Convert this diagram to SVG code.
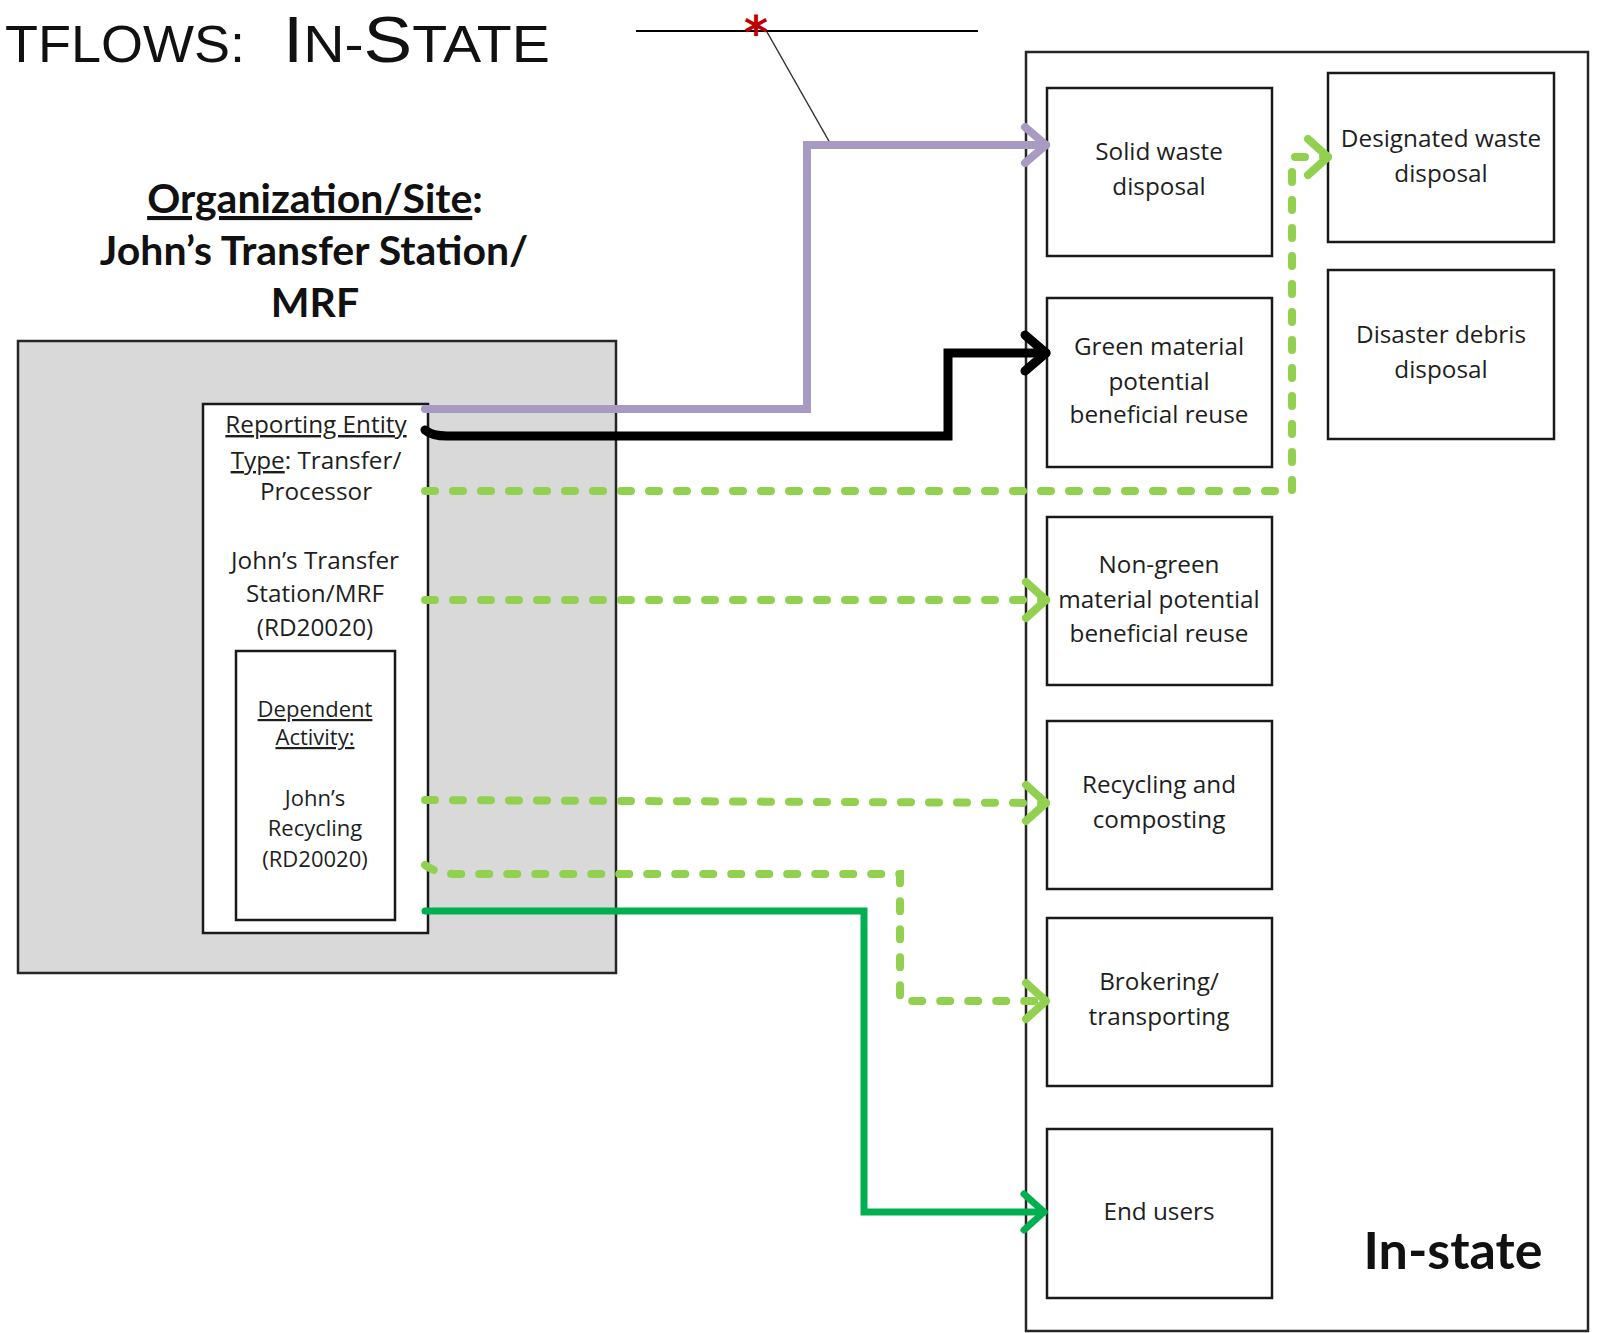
<svg xmlns="http://www.w3.org/2000/svg" width="1601" height="1333" viewBox="0 0 1601 1333">
<style>
.box{fill:#fff;stroke:#1a1a1a;stroke-width:2.5}
.lbl{font-family:"Open Sans","Liberation Sans",sans-serif;font-size:24.3px;fill:#1e1e1e;text-anchor:middle}
.sm{font-family:"Open Sans","Liberation Sans",sans-serif;font-size:24.3px;fill:#1e1e1e;text-anchor:middle}
.xs{font-family:"Open Sans","Liberation Sans",sans-serif;font-size:22px;fill:#1e1e1e;text-anchor:middle}
.hd{font-family:Lato,"Liberation Sans",sans-serif;font-weight:bold;font-size:41px;fill:#111;text-anchor:middle}
.ttl{font-family:"Liberation Sans",Arial,sans-serif;fill:#111}
.ul{text-decoration:underline}
.c{fill:none;stroke-linejoin:miter;stroke-linecap:round}
.purple{stroke:#a99ac4;stroke-width:8}
.black{stroke:#000;stroke-width:9}
.lg{stroke:#92d050;stroke-width:8;stroke-dasharray:10 18}
.dg{stroke:#00b050;stroke-width:7}
</style>
<defs>
<marker id="aP" markerUnits="userSpaceOnUse" viewBox="-30 -25 40 50" markerWidth="40" markerHeight="50" refX="0" refY="0" orient="auto"><path d="M-21,-18 L0,0 L-21,18" fill="none" stroke="#a99ac4" stroke-width="8" stroke-linecap="round" stroke-linejoin="round"/></marker>
<marker id="aB" markerUnits="userSpaceOnUse" viewBox="-30 -25 40 50" markerWidth="40" markerHeight="50" refX="0" refY="0" orient="auto"><path d="M-21,-18 L0,0 L-21,18" fill="none" stroke="#000" stroke-width="9" stroke-linecap="round" stroke-linejoin="round"/></marker>
<marker id="aL" markerUnits="userSpaceOnUse" viewBox="-30 -25 40 50" markerWidth="40" markerHeight="50" refX="0" refY="0" orient="auto"><path d="M-20,-18 L0,0 L-20,18" fill="none" stroke="#92d050" stroke-width="8" stroke-linecap="round" stroke-linejoin="round"/></marker>
<marker id="aG" markerUnits="userSpaceOnUse" viewBox="-30 -25 40 50" markerWidth="40" markerHeight="50" refX="0" refY="0" orient="auto"><path d="M-20,-18 L0,0 L-20,18" fill="none" stroke="#00b050" stroke-width="7" stroke-linecap="round" stroke-linejoin="round"/></marker>
</defs>
<rect width="1601" height="1333" fill="#fff"/>

<g id="title">
<text class="ttl" x="5" y="62" font-size="51" textLength="240" lengthAdjust="spacingAndGlyphs">TFLOWS:</text>
<text class="ttl" x="283" y="62" textLength="267" lengthAdjust="spacingAndGlyphs"><tspan font-size="65">I</tspan><tspan font-size="51">N-</tspan><tspan font-size="65">S</tspan><tspan font-size="51">TATE</tspan></text>
</g>

<g id="annotation">
<line x1="636" y1="31" x2="978" y2="31" stroke="#000" stroke-width="2"/>
<line x1="767" y1="32" x2="830" y2="143" stroke="#333" stroke-width="1.5"/>
<text x="756" y="49" font-family="'DejaVu Sans',sans-serif" font-size="46" font-weight="bold" fill="#c00000" text-anchor="middle">*</text>
</g>

<g id="heading">
<text class="hd" x="315" y="213"><tspan class="ul">Organization/Site</tspan>:</text>
<text class="hd" x="314" y="265">John’s Transfer Station/</text>
<text class="hd" x="315" y="317">MRF</text>
</g>

<g id="org-site">
<rect x="18" y="341" width="598" height="632" fill="#d9d9d9" stroke="#262626" stroke-width="2.5"/>
</g>

<g id="reporting-entity">
<rect x="203" y="404" width="225" height="529" class="box"/>
<text class="sm" x="316" y="433"><tspan class="ul">Reporting Entity</tspan></text>
<text class="sm" x="316" y="469"><tspan class="ul">Type</tspan>: Transfer/</text>
<text class="sm" x="316" y="500">Processor</text>
<text class="sm" x="315" y="569">John’s Transfer</text>
<text class="sm" x="315" y="602">Station/MRF</text>
<text class="sm" x="315" y="636">(RD20020)</text>
</g>

<g id="dependent-activity">
<rect x="236" y="651" width="159" height="269" class="box"/>
<text class="xs" x="315" y="717"><tspan class="ul">Dependent</tspan></text>
<text class="xs" x="315" y="745"><tspan class="ul">Activity:</tspan></text>
<text class="xs" x="315" y="806">John’s</text>
<text class="xs" x="315" y="836">Recycling</text>
<text class="xs" x="315" y="867">(RD20020)</text>
</g>

<g id="in-state">
<rect x="1026" y="52" width="562" height="1279" fill="#fff" stroke="#262626" stroke-width="2.5"/>
<text x="1453" y="1269" font-family="Lato,'Liberation Sans',sans-serif" font-weight="bold" font-size="52" fill="#111" text-anchor="middle">In-state</text>
</g>

<g id="solid-waste">
<rect x="1047" y="88" width="225" height="168" class="box"/>
<text class="lbl" x="1159" y="160">Solid waste</text>
<text class="lbl" x="1159" y="195">disposal</text>
</g>
<g id="green-material">
<rect x="1047" y="298" width="225" height="169" class="box"/>
<text class="lbl" x="1159" y="355">Green material</text>
<text class="lbl" x="1159" y="390">potential</text>
<text class="lbl" x="1159" y="423">beneficial reuse</text>
</g>
<g id="non-green">
<rect x="1047" y="517" width="225" height="168" class="box"/>
<text class="lbl" x="1159" y="573">Non-green</text>
<text class="lbl" x="1159" y="608">material potential</text>
<text class="lbl" x="1159" y="642">beneficial reuse</text>
</g>
<g id="recycling">
<rect x="1047" y="721" width="225" height="168" class="box"/>
<text class="lbl" x="1159" y="793">Recycling and</text>
<text class="lbl" x="1159" y="828">composting</text>
</g>
<g id="brokering">
<rect x="1047" y="918" width="225" height="168" class="box"/>
<text class="lbl" x="1159" y="990">Brokering/</text>
<text class="lbl" x="1159" y="1025">transporting</text>
</g>
<g id="end-users">
<rect x="1047" y="1129" width="225" height="169" class="box"/>
<text class="lbl" x="1159" y="1220">End users</text>
</g>
<g id="designated-waste">
<rect x="1328" y="73" width="226" height="169" class="box"/>
<text class="lbl" x="1441" y="147">Designated waste</text>
<text class="lbl" x="1441" y="182">disposal</text>
</g>
<g id="disaster-debris">
<rect x="1328" y="270" width="226" height="169" class="box"/>
<text class="lbl" x="1441" y="343">Disaster debris</text>
<text class="lbl" x="1441" y="378">disposal</text>
</g>

<g id="connectors">
<path class="c purple" d="M425,409 L807,409 L807,145 L1046,145" marker-end="url(#aP)"/>
<path class="c black" d="M425,430 Q432,436 447,436 L948,436 L948,353 L1046,353" marker-end="url(#aB)"/>
<path class="c lg" d="M425,491 L1292,491 L1292,157 L1328,157" marker-end="url(#aL)"/>
<path class="c lg" d="M425,600 L1046,600" marker-end="url(#aL)"/>
<path class="c lg" d="M425,800 L1046,803" marker-end="url(#aL)"/>
<path class="c lg" d="M425,865 Q437,874 457,874 L900,874 L900,1001 L1046,1001" marker-end="url(#aL)"/>
<path class="c dg" d="M425,911 L864,911 L864,1212 L1044,1212" marker-end="url(#aG)"/>
</g>
</svg>
